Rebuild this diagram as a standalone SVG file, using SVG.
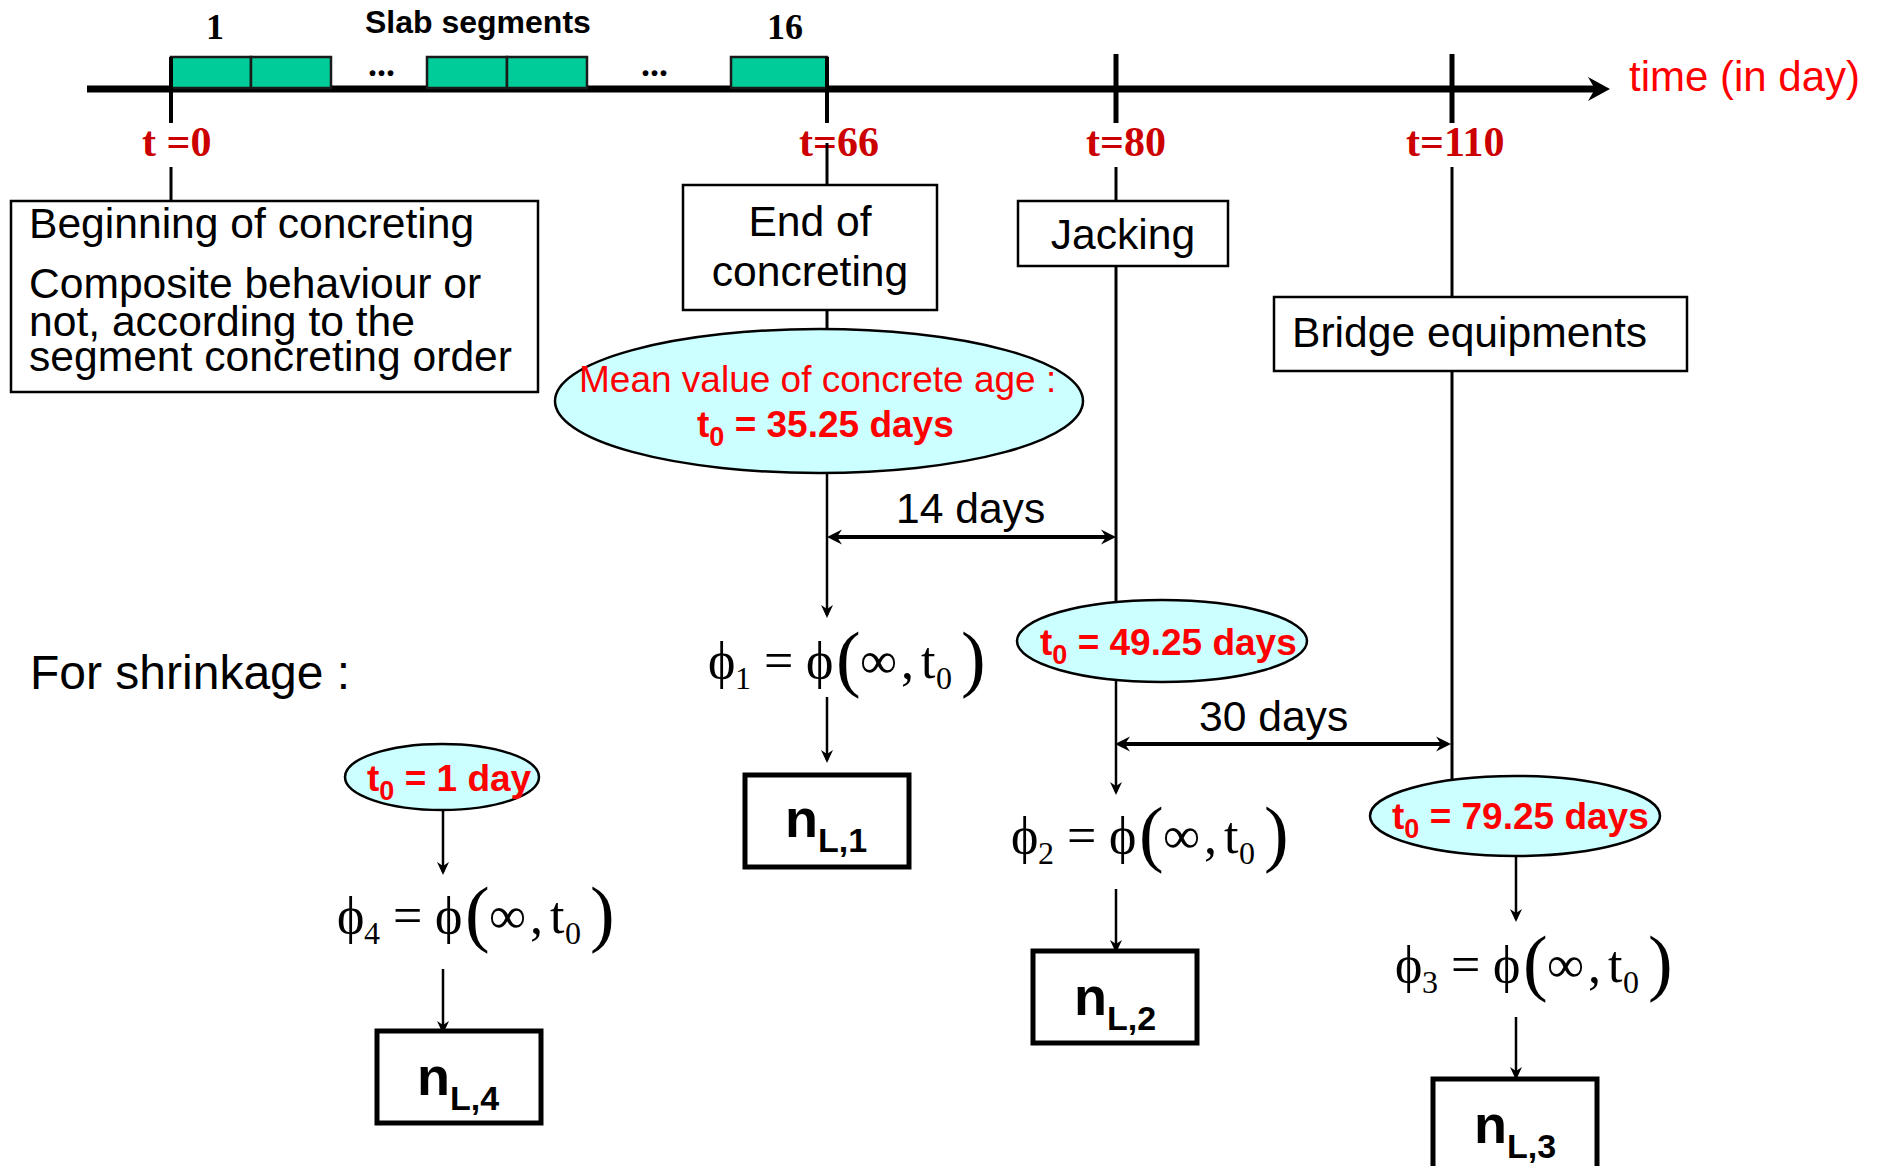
<svg xmlns="http://www.w3.org/2000/svg" width="1883" height="1166" viewBox="0 0 1883 1166">
<style>
.sans{font-family:"Liberation Sans",Arial,sans-serif}
.serif{font-family:"Liberation Serif","Times New Roman",serif}
.box{fill:#fff;stroke:#000;stroke-width:2.5}
.nbox{fill:#fff;stroke:#000;stroke-width:5}
.ell{fill:#CCFFFF;stroke:#000;stroke-width:2.5}
.seg{fill:#00CC99;stroke:#1a1a1a;stroke-width:2.5}
.lbl{font-size:42.6px;fill:#000}
.tl{font-size:42px;font-weight:bold;fill:#CC0000}
.red{fill:#FF0000}
.b{font-weight:bold}
.ln{stroke:#000;stroke-width:3;fill:none}
.arr{stroke:#000;stroke-width:2.5;fill:none;marker-end:url(#ah)}
.dim{stroke:#000;stroke-width:4;fill:none;marker-start:url(#dh);marker-end:url(#dh)}
.m{font-size:52px}
.ms{font-size:32px}
.mp{font-size:74px}
.nt{font-size:54px;font-weight:bold}
.nsub{font-size:34px}
.t0{font-size:37px;font-weight:bold;fill:#FF0000}
.sub0{font-size:27px}
</style>
<defs>
<marker id="ah" markerUnits="userSpaceOnUse" viewBox="-15 -8 17 16" markerWidth="17" markerHeight="16" refX="-3" refY="0" orient="auto">
<path d="M0,0 L-13,-6 L-9,0 L-13,6 Z" fill="#000"/>
</marker>
<marker id="dh" markerUnits="userSpaceOnUse" viewBox="-17 -9 19 18" markerWidth="19" markerHeight="18" refX="-5" refY="0" orient="auto-start-reverse">
<path d="M0,0 L-15,-7.5 L-10,0 L-15,7.5 Z" fill="#000"/>
</marker>
<marker id="th" markerUnits="userSpaceOnUse" viewBox="-24 -13 26 26" markerWidth="26" markerHeight="26" refX="-12" refY="0" orient="auto">
<path d="M0,0 L-22,-12 L-15,0 L-22,12 Z" fill="#000"/>
</marker>
<g id="phiF">
<text class="serif m" x="-1" y="0">ϕ</text>
<text class="serif m" x="55" y="0">=</text>
<text class="serif m" x="97" y="0">ϕ</text>
<text class="serif mp" x="127" y="5">(</text>
<text class="serif m" x="151" y="0">∞</text>
<text class="serif m" x="192" y="0">,</text>
<text class="serif m" x="212" y="0">t</text>
<text class="serif ms" x="227" y="11">0</text>
<text class="serif mp" x="252" y="5">)</text>
</g>
</defs>
<rect width="1883" height="1166" fill="#fff"/>

<g id="timeline">
<line x1="87" y1="89" x2="1598" y2="89" stroke="#000" stroke-width="7" marker-end="url(#th)"/>
<rect class="seg" x="171" y="57" width="80" height="31"/>
<rect class="seg" x="251" y="57" width="80" height="31"/>
<rect class="seg" x="427" y="57" width="80" height="31"/>
<rect class="seg" x="507" y="57" width="80" height="31"/>
<rect class="seg" x="731" y="57" width="96" height="31"/>
<line x1="171" y1="57" x2="171" y2="123" stroke="#000" stroke-width="4"/>
<line x1="827" y1="57" x2="827" y2="123" stroke="#000" stroke-width="4"/>
<line x1="1116" y1="54" x2="1116" y2="123" stroke="#000" stroke-width="5"/>
<line x1="1452" y1="54" x2="1452" y2="123" stroke="#000" stroke-width="5"/>
<text class="serif b" x="215" y="39" font-size="36" text-anchor="middle">1</text>
<text class="serif b" x="785" y="39" font-size="36" text-anchor="middle">16</text>
<text class="sans b" x="365" y="33" font-size="32">Slab segments</text>
<text class="serif b" x="368" y="76" font-size="36">...</text>
<text class="serif b" x="641" y="76" font-size="36">...</text>
<text class="sans red" x="1629" y="91" font-size="42">time (in day)</text>
<text class="serif tl" x="142" y="156">t =0</text>
<text class="serif tl" x="799" y="156">t=66</text>
<text class="serif tl" x="1086" y="156">t=80</text>
<text class="serif tl" x="1406" y="156">t=110</text>
</g>

<g id="connectors">
<line class="ln" x1="171" y1="167" x2="171" y2="201"/>
<line class="ln" x1="827" y1="143" x2="827" y2="185"/>
<line class="ln" x1="827" y1="310" x2="827" y2="329"/>
<line class="arr" x1="827" y1="473" x2="827" y2="615"/>
<line class="arr" x1="827" y1="697" x2="827" y2="760"/>
<line class="ln" x1="1116" y1="167" x2="1116" y2="201"/>
<line class="ln" x1="1116" y1="266" x2="1116" y2="602"/>
<line class="arr" x1="1116" y1="680" x2="1116" y2="792"/>
<line class="arr" x1="1116" y1="889" x2="1116" y2="950"/>
<line class="ln" x1="1452" y1="167" x2="1452" y2="297"/>
<line class="ln" x1="1452" y1="371" x2="1452" y2="780"/>
<line class="arr" x1="1516" y1="856" x2="1516" y2="919"/>
<line class="arr" x1="1516" y1="1017" x2="1516" y2="1077"/>
<line class="arr" x1="443" y1="810" x2="443" y2="872"/>
<line class="arr" x1="443" y1="969" x2="443" y2="1031"/>
<line class="dim" x1="832" y1="537" x2="1111" y2="537"/>
<line class="dim" x1="1120" y1="744" x2="1446" y2="744"/>
<text class="sans lbl" x="896" y="523">14 days</text>
<text class="sans lbl" x="1199" y="731">30 days</text>
</g>

<g id="begin">
<rect class="box" x="11" y="201" width="527" height="191"/>
<text class="sans lbl" x="29" y="238">Beginning of concreting</text>
<text class="sans lbl" x="29" y="298">Composite behaviour or</text>
<text class="sans lbl" x="29" y="336">not, according to the</text>
<text class="sans lbl" x="29" y="371">segment concreting order</text>
</g>

<g id="end">
<rect class="box" x="683" y="185" width="254" height="125"/>
<text class="sans lbl" x="810" y="236" text-anchor="middle">End of</text>
<text class="sans lbl" x="810" y="286" text-anchor="middle">concreting</text>
</g>

<g id="jacking">
<rect class="box" x="1018" y="201" width="210" height="65"/>
<text class="sans lbl" x="1123" y="249" text-anchor="middle">Jacking</text>
</g>

<g id="bridge">
<rect class="box" x="1274" y="297" width="413" height="74"/>
<text class="sans lbl" x="1292" y="347">Bridge equipments</text>
</g>

<g id="mean">
<ellipse class="ell" cx="819" cy="401" rx="264" ry="72"/>
<text class="sans" x="579" y="392" font-size="37" fill="#FF0000">Mean value of concrete age :</text>
<text class="sans t0" x="697" y="437">t<tspan class="sub0" dy="9">0</tspan><tspan dy="-9"> = 35.25 days</tspan></text>
</g>

<g id="t49">
<ellipse class="ell" cx="1162" cy="641" rx="145" ry="41"/>
<text class="sans t0" x="1040" y="655">t<tspan class="sub0" dy="9">0</tspan><tspan dy="-9"> = 49.25 days</tspan></text>
</g>

<g id="t79">
<ellipse class="ell" cx="1515" cy="816" rx="145" ry="40"/>
<text class="sans t0" x="1392" y="829">t<tspan class="sub0" dy="9">0</tspan><tspan dy="-9"> = 79.25 days</tspan></text>
</g>

<g id="t1">
<ellipse class="ell" cx="442" cy="777" rx="97" ry="33"/>
<text class="sans t0" x="367" y="791">t<tspan class="sub0" dy="9">0</tspan><tspan dy="-9"> = 1 day</tspan></text>
</g>

<g id="shrink">
<text class="sans" x="30" y="689" font-size="48" fill="#000">For shrinkage :</text>
</g>

<g id="phi1" transform="translate(709,678)">
<use href="#phiF"/>
<text class="serif ms" x="26" y="11">1</text>
</g>
<g id="phi2" transform="translate(1012,853)">
<use href="#phiF"/>
<text class="serif ms" x="26" y="11">2</text>
</g>
<g id="phi3" transform="translate(1396,982)">
<use href="#phiF"/>
<text class="serif ms" x="26" y="11">3</text>
</g>
<g id="phi4" transform="translate(338,933)">
<use href="#phiF"/>
<text class="serif ms" x="26" y="11">4</text>
</g>

<g id="nL1">
<rect class="nbox" x="745" y="775" width="164" height="92"/>
<text class="sans nt" x="785" y="837">n<tspan class="nsub" dy="15">L,1</tspan></text>
</g>
<g id="nL2">
<rect class="nbox" x="1033" y="951" width="164" height="92"/>
<text class="sans nt" x="1074" y="1015">n<tspan class="nsub" dy="15">L,2</tspan></text>
</g>
<g id="nL3">
<rect class="nbox" x="1433" y="1079" width="164" height="110"/>
<text class="sans nt" x="1474" y="1143">n<tspan class="nsub" dy="15">L,3</tspan></text>
</g>
<g id="nL4">
<rect class="nbox" x="377" y="1031" width="164" height="92"/>
<text class="sans nt" x="417" y="1095">n<tspan class="nsub" dy="15">L,4</tspan></text>
</g>
</svg>
